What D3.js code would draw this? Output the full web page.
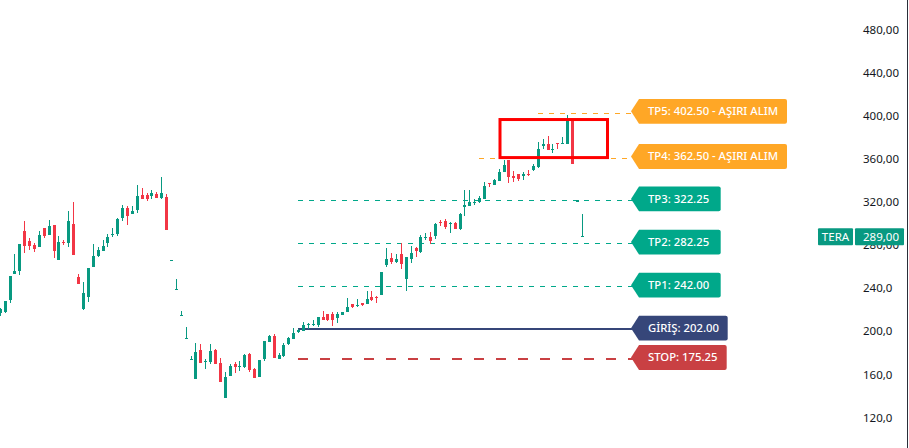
<!DOCTYPE html>
<html><head><meta charset="utf-8">
<script src="https://cdn.jsdelivr.net/npm/d3@7"></script>
<style>html,body{margin:0;padding:0;background:#fff;overflow:hidden}svg{display:block}text{font-family:"Noto Sans",sans-serif}</style>
</head><body><div id="c"></div>
<script>
const opens=[216.2,217.7,228.6,252.7,255.5,292.6,283.3,279.6,277.8,295.4,288.9,298.2,265.7,282.7,281.5,299.1,249.9,220.2,231.4,259.2,269.4,274.0,281.5,288.9,289.8,304.7,313.9,308.4,312.1,326.0,326.0,325.1,326.9,323.2,324.1,265.5,237.9,213.7,192.4,172.9,155.3,182.2,171.0,171.0,182.2,170.1,137.6,158.0,169.2,166.4,166.4,178.5,164.5,157.1,173.8,189.6,195.1,173.8,176.6,187.7,192.4,198.9,199.8,205.4,205.4,205.4,212.8,215.6,215.6,211.9,214.6,217.4,224.9,223.0,225.8,224.9,231.3,231.3,233.2,261.0,267.5,263.8,271.3,248.1,266.6,276.8,273.1,286.1,287.0,288.0,300.9,301.9,299.1,300.0,294.4,314.8,315.8,318.5,319.5,322.2,337.1,335.2,339.0,347.3,358.4,343.6,345.4,343.6,345.4,349.2,351.9,371.4,373.3,367.7,374.2,373.3,373.3,394.6,319.6,287.0];
const highs=[221.2,227.6,250.8,271.3,280.5,301.9,285.8,281.5,292.6,295.4,302.8,298.2,288.0,284.2,311.2,319.5,252.7,245.3,258.3,280.5,277.8,284.2,289.8,295.4,304.7,316.7,315.8,315.8,335.3,332.5,327.9,330.6,328.8,342.7,326.9,265.9,248.1,218.4,203.5,176.6,188.7,187.7,173.8,187.7,183.1,174.7,161.8,169.2,171.0,172.0,178.5,179.4,165.5,172.9,190.5,196.1,197.0,179.4,188.7,194.2,202.6,201.6,208.1,207.2,210.0,212.8,218.4,215.6,217.5,217.5,217.4,230.4,224.9,229.5,225.8,236.9,236.9,232.3,254.5,276.8,272.2,271.3,281.5,268.5,278.7,277.7,288.9,290.7,291.7,300.0,302.8,303.5,300.9,300.9,309.3,330.6,330.6,322.2,325.0,338.0,337.1,340.8,350.1,358.4,358.4,348.2,345.4,347.3,349.2,354.7,375.1,377.9,380.7,373.3,374.2,379.8,400.2,394.6,321.6,308.3];
const lows=[214.0,216.8,226.1,252.7,251.8,272.2,275.0,273.1,277.8,286.1,288.9,267.5,265.7,279.6,277.8,270.3,243.4,219.3,226.7,259.2,268.5,274.0,277.8,287.0,288.0,301.9,298.2,308.4,309.3,322.3,320.4,322.3,323.2,322.3,293.5,265.5,237.9,213.7,192.4,172.9,155.3,170.1,164.5,169.2,169.2,152.5,137.6,158.0,160.8,162.7,165.5,161.8,156.2,157.1,172.0,189.6,174.7,173.8,175.7,186.8,192.4,197.9,199.8,201.6,204.4,203.5,210.0,209.1,204.4,207.2,214.6,217.4,221.1,222.1,223.0,224.9,227.6,225.8,233.2,259.2,262.0,262.9,257.3,236.9,262.9,268.5,272.2,284.2,280.5,285.2,297.2,294.4,290.7,294.4,293.5,306.5,315.8,316.7,318.5,322.2,333.4,335.2,339.0,347.3,337.1,338.0,338.9,339.9,343.6,348.2,351.0,368.6,367.7,364.9,368.6,373.3,373.3,354.7,319.6,287.0];
const closes=[220.2,227.6,250.8,255.5,280.5,278.7,278.7,275.9,288.9,288.0,297.2,274.0,282.4,281.8,301.9,270.3,243.4,235.1,258.3,269.4,275.0,278.7,287.0,289.8,303.7,313.9,306.5,311.2,325.1,322.3,322.3,327.9,323.2,327.9,293.5,265.9,238.8,214.6,193.3,173.8,180.3,170.1,172.0,181.2,169.2,152.5,157.1,167.3,166.4,167.3,177.5,163.6,156.2,172.9,190.5,195.1,174.7,177.5,186.8,193.3,197.9,200.7,205.4,206.3,206.3,212.8,210.0,210.0,210.0,215.6,217.4,222.1,222.1,223.9,223.9,229.5,228.6,230.4,254.5,266.6,263.8,266.6,262.0,268.5,272.2,274.0,287.0,287.0,283.3,299.1,300.0,296.3,300.0,294.4,308.3,316.7,319.5,319.5,323.2,334.3,336.2,339.9,347.3,353.8,342.7,341.7,340.8,345.4,344.5,352.9,368.6,373.3,367.7,368.6,373.3,374.2,394.6,354.7,321.0,287.9];
const tickValues=[480,440,400,360,320,280,240,200,160,120];
const tickLabels=["480,00","440,00","400,00","360,00","320,00","280,00","240,0","200,0","160,0","120,0"];
const levelValues=[402.5,360.6,321.2,281.2,241.2,201.3,174.1];
const levelLabels=["TP5: 402.50 - AŞIRI ALIM","TP4: 362.50 - AŞIRI ALIM","TP3: 322.25","TP2: 282.25","TP1: 242.00","GİRİŞ: 202.00","STOP: 175.25"];
const levelColors=["#ffa726","#ffa726","#00a88a","#00a88a","#00a88a","#364679","#c94043"];
const levelStarts=[538,479,298,298,298,298,298];
const levelEnds=[787,787,720.7,720.7,720.7,727.7,726.7];
const lastName="TERA", lastValue=289, lastLabel="289,00";
const boxTop=396, boxBottom=360.7;

const W=909,H=448;
const y=d3.scaleLinear().domain([480,120]).range([29,417]);
const x=d3.scaleLinear().domain([0,119]).range([0.3,582.3]);
const px=i=>Math.floor(x(i))+0.5;
const svg=d3.select("#c").append("svg").attr("width",W).attr("height",H);
svg.append("rect").attr("width",W).attr("height",H).attr("fill","#fff");
const UP="#089981",DOWN="#f23645";

// horizontal levels
levelValues.forEach((v,i)=>{
  const dashed=i!==5, stop=i===6;
  svg.append("line").attr("x1",levelStarts[i]).attr("x2",633).attr("y1",Math.round(y(v))+(i>=5?0:.5)).attr("y2",Math.round(y(v))+(i>=5?0:.5))
    .attr("stroke",levelColors[i]).attr("stroke-width",i>=5?2:1)
    .attr("stroke-dasharray",dashed?(stop?"10,12":"5,6"):null);
});

// candles
const idx=d3.range(opens.length);
const g=svg.append("g").attr("shape-rendering","crispEdges");
g.selectAll("line").data(idx).join("line")
  .attr("x1",px).attr("x2",px).attr("y1",i=>y(highs[i])).attr("y2",i=>y(lows[i]))
  .attr("stroke",i=>closes[i]>=opens[i]?UP:DOWN).attr("stroke-width",1);
g.selectAll("rect").data(idx).join("rect")
  .attr("x",i=>px(i)-1.5).attr("width",3)
  .attr("y",i=>y(Math.max(opens[i],closes[i])))
  .attr("height",i=>Math.max(1,Math.abs(y(opens[i])-y(closes[i]))))
  .attr("fill",i=>closes[i]>=opens[i]?UP:DOWN);

// highlight box
svg.append("rect").attr("x",500).attr("width",107.5).attr("y",y(boxTop)).attr("height",y(boxBottom)-y(boxTop))
  .attr("fill","none").attr("stroke","#ff0000").attr("stroke-width",3);

// level tags
levelValues.forEach((v,i)=>{
  const c=y(v)-1.2, left=639, r=levelEnds[i], t=c-12.4, b=c+12.4, k=2;
  const p=d3.path();
  p.moveTo(left,t); p.lineTo(r-k,t); p.quadraticCurveTo(r,t,r,t+k); p.lineTo(r,b-k); p.quadraticCurveTo(r,b,r-k,b);
  p.lineTo(left,b); p.lineTo(631,c); p.closePath();
  svg.append("path").attr("d",p.toString()).attr("fill",levelColors[i]);
  svg.append("text").attr("x",648).attr("y",c+3.9).attr("fill","#fff").attr("font-size",11.3).attr("font-weight",500).text(levelLabels[i]);
});

// axis
const axis=d3.axisRight(y).tickValues(tickValues).tickFormat((d,i)=>tickLabels[i]).tickSize(0).tickPadding(0);
const ag=svg.append("g").attr("transform","translate(863,0.5)").call(axis);
ag.select(".domain").remove();
ag.selectAll("text").attr("font-size",11.5).attr("fill","#131722").style("font-family",'"Noto Sans",sans-serif');
svg.append("rect").attr("x",907).attr("y",0).attr("width",1).attr("height",H).attr("fill","#2a2e39");

// last price tag
const ly=y(lastValue)+1.8;
svg.append("rect").attr("x",818).attr("y",ly-8.5).attr("width",35).attr("height",17).attr("fill",UP).attr("rx",1);
svg.append("rect").attr("x",855).attr("y",ly-8.5).attr("width",49).attr("height",17).attr("fill",UP).attr("rx",1);
svg.append("text").attr("x",835.5).attr("y",ly+4.1).attr("text-anchor","middle").attr("fill","#fff").attr("font-size",11.5).text(lastName);
svg.append("text").attr("x",863).attr("y",ly+4.1).attr("fill","#fff").attr("font-size",11.5).text(lastLabel);
</script></body></html>
